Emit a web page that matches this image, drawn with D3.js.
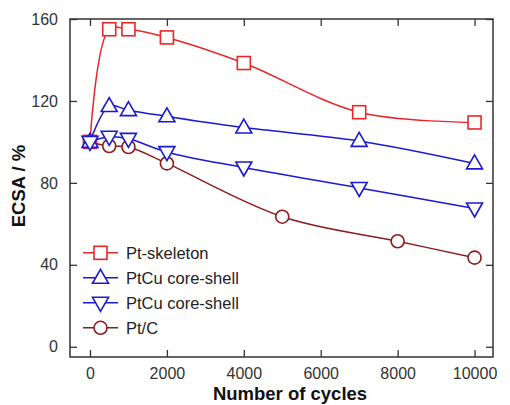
<!DOCTYPE html>
<html>
<head>
<meta charset="utf-8">
<script src="https://cdn.jsdelivr.net/npm/d3@7"></script>
<style>
  body { margin: 0; background: #fff; }
  text { font-family: Arial, "Liberation Sans", sans-serif; }
</style>
</head>
<body>
<div id="chart"></div>
<script>
//data
var skelX = [0, 500, 1000, 2000, 4000, 7000, 10000],
    skelY = [100, 155, 155, 151, 138.5, 114.5, 109.5];
var upX = [0, 500, 1000, 2000, 4000, 7000, 10000],
    upY = [100, 117.5, 115.5, 112.5, 107, 100.5, 89.5];
var downX = [0, 500, 1000, 2000, 4000, 7000, 10000],
    downY = [100, 102.5, 101.5, 95, 87.5, 77.5, 67.5];
var ptcX = [0, 500, 1000, 2000, 5000, 8000, 10000],
    ptcY = [100, 98, 97.5, 89.5, 63.5, 51.5, 43.5];
var xTicks = [0, 2000, 4000, 6000, 8000, 10000],
    yTicks = [0, 40, 80, 120, 160];
var names = ['Pt-skeleton', 'PtCu core-shell', 'PtCu core-shell', 'Pt/C'];

//sizes
var outerW = 510, outerH = 405;
var margin = { left: 70, right: 17, top: 19, bottom: 48 };
var w = outerW - margin.left - margin.right,
    h = outerH - margin.top - margin.bottom;

var svg = d3.select('#chart').append('svg')
    .attr('width', outerW)
    .attr('height', outerH);

var g = svg.append('g')
    .attr('transform', 'translate(' + margin.left + ',' + margin.top + ')');

//scales
var xScale = d3.scaleLinear().domain([-520, 10480]).range([0, w]),
    yScale = d3.scaleLinear().domain([-5, 160]).range([h, 0]);

var tickLen = 7;

//axes: ticks pointing inward, labels outside
var xAxis = d3.axisBottom(xScale).tickValues(xTicks).tickFormat(d3.format('d'))
    .tickSize(-tickLen).tickPadding(tickLen + 4).tickSizeOuter(0);
var yAxis = d3.axisLeft(yScale).tickValues(yTicks).tickFormat(d3.format('d'))
    .tickSize(-tickLen).tickPadding(tickLen + 5).tickSizeOuter(0);
var xTop = d3.axisTop(xScale).tickValues(xTicks).tickSize(-tickLen).tickFormat('').tickSizeOuter(0);
var yRight = d3.axisRight(yScale).tickValues(yTicks).tickSize(-tickLen).tickFormat('').tickSizeOuter(0);

g.append('g').attr('class', 'axis').attr('transform', 'translate(0,' + h + ')').call(xAxis);
g.append('g').attr('class', 'axis').call(yAxis);
g.append('g').attr('class', 'axis').call(xTop);
g.append('g').attr('class', 'axis').attr('transform', 'translate(' + w + ',0)').call(yRight);

g.selectAll('.axis .domain').remove();
g.selectAll('.axis line').attr('stroke', '#333').attr('stroke-width', 1.3);
g.selectAll('.axis text').attr('font-size', 16).attr('fill', '#333');

g.append('rect')
    .attr('width', w).attr('height', h)
    .attr('fill', 'none').attr('stroke', '#333').attr('stroke-width', 1.5);

//axis titles
svg.append('text')
    .attr('x', 290).attr('y', 400)
    .attr('text-anchor', 'middle')
    .attr('font-size', 18.5).attr('font-weight', 'bold').attr('fill', '#111')
    .text('Number of cycles');

svg.append('text')
    .attr('transform', 'translate(25,' + (margin.top + h / 2 - 2) + ') rotate(-90)')
    .attr('text-anchor', 'middle')
    .attr('font-size', 18.5).attr('font-weight', 'bold').attr('fill', '#111')
    .text('ECSA / %');

//series
var series = [
    { xs: skelX, ys: skelY, color: '#e8262a', marker: 'square' },
    { xs: upX, ys: upY, color: '#1a1ad0', marker: 'up' },
    { xs: downX, ys: downY, color: '#1a1ad0', marker: 'down' },
    { xs: ptcX, ys: ptcY, color: '#8a1c1c', marker: 'circle' }
];

function drawMarker(sel, type, color) {
    var s;
    if (type == 'square') {
        s = sel.append('rect').attr('x', -6.5).attr('y', -6.5).attr('width', 13).attr('height', 13);
    } else if (type == 'circle') {
        s = sel.append('circle').attr('r', 6.5);
    } else if (type == 'up') {
        s = sel.append('path').attr('d', 'M0,-8.5L8,5.5L-8,5.5Z');
    } else {
        s = sel.append('path').attr('d', 'M0,8.5L8,-5.5L-8,-5.5Z');
    }
    s.attr('fill', 'white').attr('stroke', color).attr('stroke-width', 1.6);
}

var line = d3.line()
    .x(function(d) { return xScale(d[0]); })
    .y(function(d) { return yScale(d[1]); })
    .curve(d3.curveCatmullRom.alpha(0.5));

// draw order: Pt/C first, then squares, up and down triangles on top
var order = [3, 0, 1, 2];
order.forEach(function(k) {
    var s = series[k];
    var pts = s.xs.map(function(x, i) { return [x, s.ys[i]]; });
    g.append('path')
        .datum(pts)
        .attr('d', line)
        .attr('fill', 'none')
        .attr('stroke', s.color)
        .attr('stroke-width', 1.5);
    g.selectAll(null)
        .data(pts)
        .enter()
        .append('g')
        .attr('transform', function(d) { return 'translate(' + xScale(d[0]) + ',' + yScale(d[1]) + ')'; })
        .each(function() { drawMarker(d3.select(this), s.marker, s.color); });
});

//legend
var legend = g.append('g').attr('transform', 'translate(13,' + (yScale(40) - 12) + ')');
series.forEach(function(s, i) {
    var row = legend.append('g').attr('transform', 'translate(0,' + (i * 25) + ')');
    row.append('line').attr('x1', 0).attr('x2', 35).attr('stroke', s.color).attr('stroke-width', 1.5);
    var m = row.append('g').attr('transform', 'translate(17.5,0)');
    drawMarker(m, s.marker, s.color);
    row.append('text')
        .attr('x', 43).attr('y', 6)
        .attr('font-size', 16.5).attr('fill', '#222')
        .text(names[i]);
});
</script>
</body>
</html>
